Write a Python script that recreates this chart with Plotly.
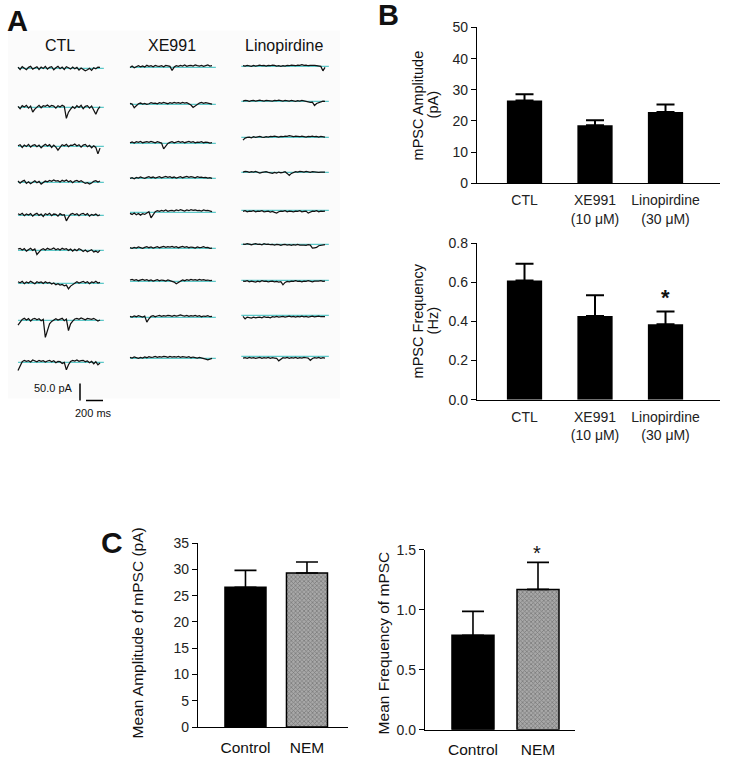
import numpy as np
import plotly.graph_objects as go

W, H = 729, 758

# ---------------- DATA ----------------
# Panel B
b_categories = ["CTL", "XE991<br>(10 μM)", "Linopirdine<br>(30 μM)"]
b_amp_mean = [26.6, 18.6, 22.9]
b_amp_sem = [2.0, 1.6, 2.4]
b_freq_mean = [0.609, 0.427, 0.385]
b_freq_sem = [0.086, 0.106, 0.066]

# Panel C
c_categories = ["Control", "NEM"]
c_amp_mean = [26.6, 29.3]
c_amp_sem = [3.2, 2.1]
c_freq_mean = [0.786, 1.169]
c_freq_sem = [0.200, 0.225]

# Panel A: sample traces (pA), 40 samples over ~1 s each
trace_headers = ["CTL", "XE991", "Linopirdine"]
ctl_traces = [
    [4,-3,5,1,-4,3,6,-2,2,5,-3,4,0,6,-2,3,5,-4,2,6,-1,4,-3,5,2,-2,4,-1,3,-5,1,-3,-7,-4,0,-6,2,-1,4,3],
    [3,-4,5,1,6,-2,4,-14,-5,2,6,-1,5,3,7,2,6,4,-2,5,1,6,3,-32,-14,-5,2,-3,5,0,6,-4,3,5,-2,4,-6,-20,-6,2],
    [2,5,-3,4,0,6,-2,3,5,-1,4,-4,2,6,1,5,-3,4,-2,-11,-3,5,2,6,-1,4,3,7,1,5,-2,4,6,-1,3,-4,2,-3,-22,-5],
    [4,-2,3,6,-3,2,-4,1,5,-1,3,-5,0,4,2,6,3,7,4,5,1,6,3,7,2,5,-1,4,6,2,5,0,-3,-1,-5,-2,3,5,1,4],
    [5,2,6,-1,4,1,5,-2,3,6,0,4,-3,5,2,6,-1,4,3,-2,5,1,2,-16,-5,3,6,2,5,-1,4,6,1,5,-2,3,0,4,-1,2],
    [4,6,1,5,-2,3,6,0,4,-12,-4,2,5,1,6,3,4,7,2,5,1,6,3,5,0,4,-2,3,-1,5,2,-3,1,-4,-1,2,-5,-2,-6,0],
    [5,2,6,-1,4,1,6,3,-1,5,2,4,0,5,1,3,-2,1,-4,-1,-5,-3,-7,-5,-16,-8,-3,2,5,1,4,6,2,5,-1,4,2,6,1,3],
    [-14,-4,3,6,1,5,-2,4,6,2,5,-1,3,-50,-26,-10,-3,2,5,1,3,6,-1,4,-30,-10,-2,4,6,3,7,4,2,6,5,3,6,2,-2,1],
    [-24,-8,2,6,3,5,1,7,4,2,6,3,5,1,4,6,2,5,-1,3,2,-3,0,-22,-7,3,6,4,7,3,5,6,2,4,-1,3,-4,2,-7,-2],
]
xe991_traces = [
    [0,4,-1,3,5,2,4,1,6,3,5,2,6,4,3,5,2,6,4,3,-9,1,5,3,6,4,7,3,5,6,4,7,5,4,6,3,5,7,4,5],
    [3,1,-10,-3,2,4,1,3,0,2,5,3,4,2,5,3,6,4,2,5,3,6,4,5,3,6,4,5,2,-2,-9,-4,1,4,6,3,5,4,2,1],
    [2,4,1,5,3,6,2,4,5,3,6,4,2,5,3,1,-16,-6,0,3,5,2,4,6,3,5,2,4,6,3,5,2,4,3,5,2,4,3,1,2],
    [0,2,-1,3,1,4,2,0,3,5,2,4,1,3,5,2,4,6,3,5,2,4,1,3,5,2,4,6,3,5,4,2,5,3,4,2,3,1,2,0],
    [-3,-6,-2,-7,-3,-8,-4,-6,-2,2,-16,-6,2,5,3,6,4,7,3,5,6,4,7,5,8,6,4,7,5,8,6,7,5,6,4,7,5,6,3,2],
    [2,0,3,1,4,2,0,3,5,2,4,1,3,5,2,4,6,3,5,4,6,3,5,2,4,6,3,5,2,4,3,1,4,2,3,5,2,3,0,1],
    [4,6,3,5,2,4,6,3,5,2,4,1,3,5,2,4,3,1,4,2,0,-2,-7,-3,1,4,2,5,3,6,4,5,3,6,4,5,3,4,2,3],
    [3,1,4,2,5,3,1,4,-14,-4,3,5,2,4,6,3,5,4,6,5,3,6,4,5,7,5,4,6,3,5,4,6,3,5,2,4,3,5,2,3],
    [3,1,4,2,0,3,1,4,2,5,3,4,6,3,5,4,6,5,3,6,4,5,4,6,3,5,4,3,5,2,4,3,1,3,2,0,-2,-4,-1,0],
]
lino_traces = [
    [2,1,3,2,0,3,1,2,4,2,3,1,3,2,4,3,1,2,0,2,1,3,2,4,3,2,4,3,5,3,4,2,3,4,3,2,1,0,-13,-3],
    [1,3,2,0,2,3,1,2,4,2,1,3,2,0,1,3,2,4,2,1,3,2,1,3,2,0,2,1,3,1,0,-1,-3,-2,-12,-6,-3,-1,1,0],
    [-8,-2,0,1,-1,2,0,1,3,1,0,2,1,3,2,4,2,1,3,2,4,3,5,3,2,4,3,2,4,3,1,3,2,4,2,3,1,3,2,1],
    [1,3,2,0,2,1,3,0,-2,0,1,2,0,-1,-3,0,-2,1,-1,0,2,-3,-9,-3,0,2,1,3,2,1,3,2,0,2,1,2,0,1,2,1],
    [-3,-1,-4,-2,-3,-1,-4,-2,-3,-1,-4,-3,-2,-5,-3,-6,-8,-4,-2,-3,-1,-4,-2,-3,-4,-2,-3,-1,-4,-3,-2,-8,-4,-2,-3,-1,-4,-2,-3,-2],
    [1,0,2,1,-1,1,2,0,1,-1,2,0,1,-1,0,-2,0,-1,-3,-1,0,-2,-1,-3,-1,-2,0,-2,-1,-2,-3,-1,-2,-11,-10,-9,-4,-3,-2,-1],
    [-2,-3,-1,-4,-2,-3,-5,-2,-4,-1,-3,-2,-4,-3,-2,-4,-3,-5,-4,-13,-6,-3,-4,-2,-3,-1,-3,-2,-4,-2,-3,-1,-2,-4,-2,-3,-2,-1,-3,-2],
    [-3,-10,-5,-6,-8,-5,-7,-6,-5,-7,-4,-6,-5,-7,-4,-5,-3,-5,-4,-3,-5,-4,-2,-4,-3,-5,-3,-4,-2,-4,-3,-5,-3,-2,-4,-3,-2,-4,-3,-4],
    [-5,-4,-6,-3,-5,-4,-6,-5,-3,-6,-4,-5,-3,-6,-4,-5,-6,-13,-7,-4,-5,-3,-6,-4,-5,-3,-6,-4,-5,-3,-4,-5,-12,-6,-4,-5,-3,-6,-4,-5],
]
trace_duration_ms = 965
scale_bar_pA = 50
scale_bar_ms = 200

# ---------------- LAYOUT HELPERS ----------------
FONT = "Liberation Sans, Arial, sans-serif"
# vertical calibration of target pixel rows -> figure rows
Y_SCALE, Y_SHIFT = 0.9776, 7.6


def fy(y):
    return (y - Y_SHIFT) / Y_SCALE


def pxx(x):
    return x / W


def pxy(y):
    return 1 - fy(y) / H


fig = go.Figure()

# ---------------- PANEL A ----------------
MS_PER_PX = 200 / 17.0
PA_PER_PX = 50 / 17.0 * Y_SCALE
A_TOP, A_BOT, A_RIGHT = 20, 420, 345
col_start_px = [18, 130, 243]
row_base_px = [
    [68, 107, 146, 182, 215, 250, 283, 320, 362],
    [67, 104, 143, 178, 212, 248, 281, 317, 358],
    [66, 101, 137, 172, 210, 244, 280, 315, 356],
]
cyan_extra_ms = 45
cyan_pre_ms = [0, 0, 20]


def a_base(py_target):
    return (fy(A_BOT) - fy(py_target)) * PA_PER_PX


all_traces = [ctl_traces, xe991_traces, lino_traces]
for c, traces in enumerate(all_traces):
    x0 = col_start_px[c] * MS_PER_PX
    for r, vals in enumerate(traces):
        base = a_base(row_base_px[c][r])
        n = len(vals)
        t = np.linspace(0, trace_duration_ms, n)
        fig.add_trace(go.Scatter(
            x=[x0 - cyan_pre_ms[c], x0 + trace_duration_ms + cyan_extra_ms], y=[base, base],
            mode="lines", line=dict(color="#5cc8c8", width=1.2),
            xaxis="x5", yaxis="y5", hoverinfo="skip", showlegend=False))
        fig.add_trace(go.Scatter(
            x=x0 + t, y=base + np.array(vals, dtype=float),
            mode="lines", line=dict(color="#111111", width=1.25),
            xaxis="x5", yaxis="y5", hoverinfo="skip", showlegend=False))

# scale bars
sb_x = 80 * MS_PER_PX
sb_y0 = a_base(400)
fig.add_trace(go.Scatter(x=[sb_x, sb_x], y=[sb_y0, sb_y0 + scale_bar_pA], mode="lines",
                         line=dict(color="black", width=1.5), xaxis="x5", yaxis="y5",
                         hoverinfo="skip", showlegend=False))
hb_x0 = 86 * MS_PER_PX
fig.add_trace(go.Scatter(x=[hb_x0, hb_x0 + scale_bar_ms], y=[sb_y0, sb_y0], mode="lines",
                         line=dict(color="black", width=1.5), xaxis="x5", yaxis="y5",
                         hoverinfo="skip", showlegend=False))

# ---------------- PANEL B ----------------
bx = [0, 1, 2]
err_style = dict(type="data", symmetric=False, color="black", thickness=2, width=9)
fig.add_trace(go.Bar(x=bx, y=b_amp_mean, width=0.5, marker=dict(color="black", line=dict(width=0)),
                     error_y=dict(array=b_amp_sem, arrayminus=[0] * 3, **err_style),
                     xaxis="x", yaxis="y", showlegend=False))
fig.add_trace(go.Bar(x=bx, y=b_freq_mean, width=0.5, marker=dict(color="black", line=dict(width=0)),
                     error_y=dict(array=b_freq_sem, arrayminus=[0] * 3, **err_style),
                     xaxis="x2", yaxis="y2", showlegend=False))

# ---------------- PANEL C ----------------
cx = [0, 1]
c_colors = ["black", "#a8a8a8"]
c_pattern = dict(shape=["", "x"], size=3, solidity=0.4, fgcolor="#404040")
err_c = dict(type="data", symmetric=False, color="black", thickness=1.6, width=11)
fig.add_trace(go.Bar(x=cx, y=c_amp_mean, width=0.667,
                     marker=dict(color=c_colors, pattern=c_pattern, line=dict(color="black", width=1.5)),
                     error_y=dict(array=c_amp_sem, arrayminus=[0, 0], **err_c),
                     xaxis="x3", yaxis="y3", showlegend=False))
fig.add_trace(go.Bar(x=cx, y=c_freq_mean, width=0.646,
                     marker=dict(color=c_colors, pattern=c_pattern, line=dict(color="black", width=1.5)),
                     error_y=dict(array=c_freq_sem, arrayminus=[0, 0], **err_c),
                     xaxis="x4", yaxis="y4", showlegend=False))

# ---------------- AXES ----------------
tickfont = dict(family=FONT, size=14, color="#222")
axis_common = dict(showline=True, linecolor="black", linewidth=1.3, showgrid=False, zeroline=False,
                   ticks="outside", tickcolor="black", tickwidth=1.3, ticklen=5, tickfont=tickfont)

b_xrange = [-0.674, 2.773]
fig.update_layout(
    xaxis=dict(domain=[pxx(477), pxx(720)], range=b_xrange, tickvals=bx, ticktext=b_categories,
               anchor="y", **{**axis_common, "tickcolor": "rgba(0,0,0,0)", "ticklen": 4}),
    yaxis=dict(domain=[pxy(183), pxy(27)], range=[0, 50], dtick=10, anchor="x", **axis_common),
    xaxis2=dict(domain=[pxx(477), pxx(720)], range=b_xrange, tickvals=bx, ticktext=b_categories,
                anchor="y2", **{**axis_common, "tickcolor": "rgba(0,0,0,0)", "ticklen": 4}),
    yaxis2=dict(domain=[pxy(399.3), pxy(242.7)], range=[0, 0.8], dtick=0.2, tickformat=".1f",
                anchor="x2", **axis_common),
    xaxis3=dict(domain=[pxx(198), pxx(348)], range=[-0.772, 1.667], tickvals=cx, ticktext=c_categories,
                anchor="y3", **{**axis_common, "tickcolor": "rgba(0,0,0,0)", "ticklen": 6,
                                "tickfont": dict(family=FONT, size=15.5, color="#111")}),
    yaxis3=dict(domain=[pxy(726.7), pxy(542.7)], range=[0, 35], dtick=5, anchor="x3", **axis_common),
    xaxis4=dict(domain=[pxx(425), pxx(575)], range=[-0.738, 1.569], tickvals=cx, ticktext=c_categories,
                anchor="y4", **{**axis_common, "tickcolor": "rgba(0,0,0,0)", "ticklen": 6,
                                "tickfont": dict(family=FONT, size=15.5, color="#111")}),
    yaxis4=dict(domain=[pxy(729.3), pxy(549.3)], range=[0, 1.5], dtick=0.5, tickformat=".1f",
                anchor="x4", **axis_common),
    xaxis5=dict(domain=[0, pxx(A_RIGHT)], range=[0, A_RIGHT * MS_PER_PX], visible=False),
    yaxis5=dict(domain=[pxy(A_BOT), pxy(A_TOP)], range=[0, (fy(A_BOT) - fy(A_TOP)) * PA_PER_PX],
                visible=False, anchor="x5"),
)

# ---------------- ANNOTATIONS ----------------
ann = []


def text(x, y, s, size, bold=False, angle=0, xanchor="center", color="#111"):
    ann.append(dict(x=pxx(x), y=pxy(y), xref="paper", yref="paper", text=(f"<b>{s}</b>" if bold else s),
                    showarrow=False, textangle=angle, xanchor=xanchor, yanchor="middle",
                    font=dict(family=FONT, size=size, color=color)))


text(17, 21, "A", 29, bold=True)
text(388, 15, "B", 29, bold=True)
text(112, 542, "C", 30, bold=True)

for hx, h in zip([60, 172, 284], trace_headers):
    text(hx, 45, h, 16)

text(75, 388, "50.0 pA", 11, xanchor="right")
text(93, 413, "200 ms", 11)

text(418, 105, "mPSC Amplitude", 14.5, angle=-90)
text(433, 105, "(pA)", 14.5, angle=-90)
text(418, 321, "mPSC Frequency", 14.5, angle=-90)
text(433, 321, "(Hz)", 14.5, angle=-90)
text(137, 633, "Mean Amplitude of mPSC (pA)", 15.5, angle=-90)
text(383, 643, "Mean Frequency of mPSC", 15.5, angle=-90)

text(665, 297, "*", 22, bold=True)
text(537, 553, "*", 20)

fig.update_layout(
    width=W, height=H, margin=dict(l=0, r=0, t=0, b=0),
    paper_bgcolor="white", plot_bgcolor="rgba(0,0,0,0)",
    annotations=ann, barmode="overlay", showlegend=False,
    shapes=[dict(type="rect", xref="paper", yref="paper", x0=pxx(8), x1=pxx(340), y0=pxy(398), y1=pxy(30),
                 fillcolor="#fbfbfb", line=dict(width=0), layer="below")],
)

fig.write_html("out.html", config={"displayModeBar": False},
               post_script="document.body.style.margin='0px';document.body.style.overflow='hidden';")
